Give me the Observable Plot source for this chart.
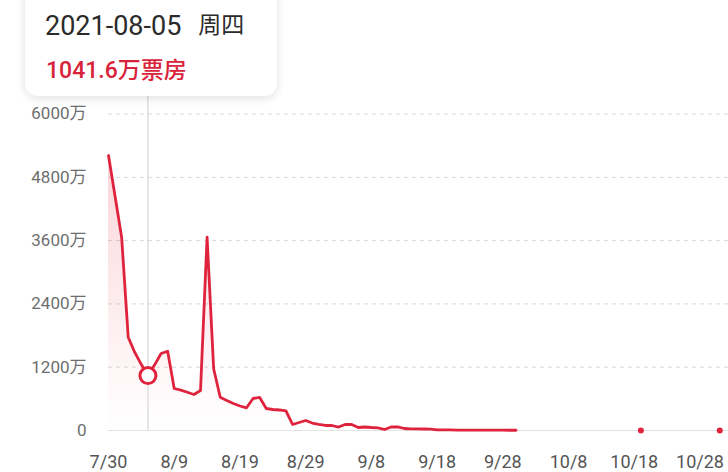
<!DOCTYPE html>
<html>
<head>
<meta charset="utf-8">
<script src="https://cdn.jsdelivr.net/npm/d3@7"></script>
<script src="https://cdn.jsdelivr.net/npm/@observablehq/plot@0.6"></script>
<style>
  html, body { margin: 0; padding: 0; background: #fff; }
  #wrap { position: relative; width: 728px; height: 472px; overflow: hidden; font-family: Roboto, "Noto Sans CJK SC", sans-serif; }
  #tip { position: absolute; left: 25px; top: -14px; width: 252px; height: 110px; background: #fff; border-radius: 12px;
         box-shadow: 0 2px 10px rgba(0,0,0,0.13); }
  #tip .d { position: absolute; left: 20px; top: 22px; font-size: 27px; color: #2b2b2b; white-space: nowrap; }
  #tip .d span { font-size: 23px; margin-left: 17px; position: relative; top: -2px; }
  #tip .v { position: absolute; left: 21px; top: 65px; font-size: 23px; color: #d8233b; font-weight: 500; white-space: nowrap; }
</style>
</head>
<body>
<div id="wrap">
  <div id="chart"></div>
  <div id="tip"><div class="d">2021-08-05<span>周四</span></div><div class="v">1041.6万票房</div></div>
</div>
<script>
// daily box office (万)
const dates = ["7/30","7/31","8/1","8/2","8/3","8/4","8/5","8/6","8/7","8/8","8/9","8/10","8/11","8/12","8/13","8/14","8/15","8/16","8/17","8/18","8/19","8/20","8/21","8/22","8/23","8/24","8/25","8/26","8/27","8/28","8/29","8/30","8/31","9/1","9/2","9/3","9/4","9/5","9/6","9/7","9/8","9/9","9/10","9/11","9/12","9/13","9/14","9/15","9/16","9/17","9/18","9/19","9/20","9/21","9/22","9/23","9/24","9/25","9/26","9/27","9/28","9/29","9/30"];
const boxOffice = [5213,4440,3664,1769,1480,1250,1041.6,1240,1460,1503,796,765,725,682,758,3664,1170,631,569,512,464,430,607,626,417,398,389,370,114,152,190,142,114,95,95,66,114,114,57,66,57,51,19,66,70,38,32,32,28,25,13,11,10,9,9,8,8,7,7,6,6,5,5];
const extraDates = ["10/19","10/31"];
const extraValues = [0.5,0.5];
const xTicks = ["7/30","8/9","8/19","8/29","9/8","9/18","9/28","10/8","10/18","10/28"];
const yTicks = [0,1200,2400,3600,4800,6000];
const selectedDate = "8/5";
const selectedValue = 1041.6;

const toDate = s => { const [m, d] = s.split("/").map(Number); return new Date(Date.UTC(2021, m - 1, d)); };
const data = dates.map((s, i) => ({date: toDate(s), value: boxOffice[i]}));
const extra = extraDates.map((s, i) => ({date: toDate(s), value: extraValues[i]}));
const red = "#e0233d";

const chart = Plot.plot({
  width: 728,
  height: 472,
  marginLeft: 108,
  marginRight: 0,
  marginTop: 113.5,
  marginBottom: 42,
  style: {fontFamily: "Roboto, 'Noto Sans CJK SC', sans-serif", fontSize: "17px", color: "#666", background: "transparent", overflow: "visible"},
  x: {type: "utc", domain: [toDate("7/30"), new Date(Date.UTC(2021, 10, 1, 8))], ticks: xTicks.map(toDate),
      tickFormat: d => (d.getUTCMonth() + 1) + "/" + d.getUTCDate(), tickSize: 0, tickPadding: 25, label: null},
  y: {domain: [0, 6000], ticks: yTicks, tickFormat: d => d === 0 ? "0" : d + "万", tickSize: 0, tickPadding: 22, label: null},
  marks: [
    Plot.ruleY(yTicks.filter(d => d > 0), {stroke: "#d9d9d9", strokeDasharray: "4,4", strokeWidth: 1}),
    Plot.ruleY([0], {stroke: "#e3e3e3", strokeWidth: 1.2}),
    Plot.areaY(data, {x: "date", y: "value", fill: "url(#pinkGrad)"}),
    Plot.ruleX([toDate(selectedDate)], {y1: 0, y2: 6400, stroke: "#cfcfcf", strokeWidth: 1}),
    Plot.lineY(data, {x: "date", y: "value", stroke: red, strokeWidth: 2.8, strokeLinejoin: "round"}),
    Plot.dot(extra, {x: "date", y: "value", r: 3, fill: red, stroke: "none"}),
    Plot.dot([{date: toDate(selectedDate), value: selectedValue}], {x: "date", y: "value", r: 8, fill: "#fff", stroke: red, strokeWidth: 3})
  ]
});

const defs = d3.select(chart).insert("defs", ":first-child");
const g = defs.append("linearGradient").attr("id", "pinkGrad").attr("x1", 0).attr("y1", 0).attr("x2", 0).attr("y2", 1);
g.append("stop").attr("offset", "0%").attr("stop-color", "#e8304a").attr("stop-opacity", 0.2);
g.append("stop").attr("offset", "100%").attr("stop-color", "#e8304a").attr("stop-opacity", 0);

// axis label styling
d3.select(chart).selectAll("text").each(function() {
  const t = this.textContent;
  if (t.includes("/")) d3.select(this).style("font-size", "18px").style("fill", "#555");
  else if (t.includes("万") || t === "0") d3.select(this).style("font-size", "17px").style("fill", "#6e6e6e");
});

document.getElementById("chart").appendChild(chart);
</script>
</body>
</html>
